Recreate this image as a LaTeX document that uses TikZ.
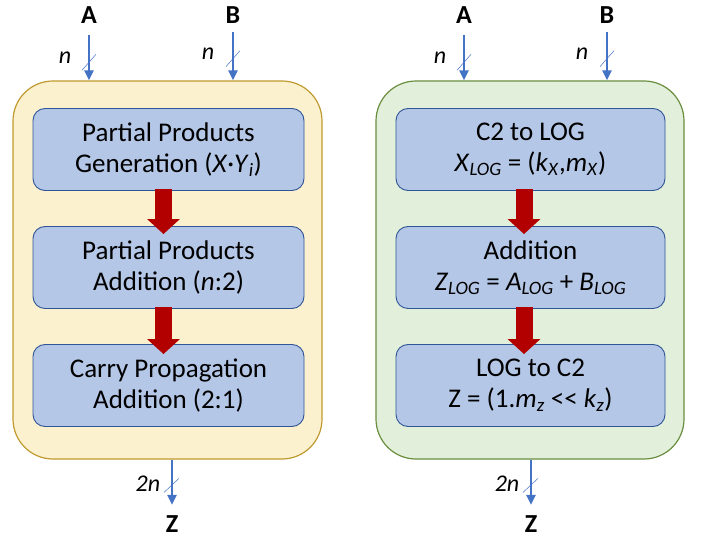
\documentclass[tikz,border=0pt]{standalone}
\usepackage{fontspec}
\setmainfont{Carlito}
\usetikzlibrary{arrows.meta}
\definecolor{stagefill}{HTML}{B4C7E7}
\definecolor{stageline}{HTML}{2F5597}
\definecolor{multfill}{HTML}{FCF1CF}
\definecolor{multline}{HTML}{BF9A2F}
\definecolor{logfill}{HTML}{E2EFDA}
\definecolor{logline}{HTML}{6A8E3F}
\definecolor{busblue}{HTML}{4472C4}
\definecolor{flowred}{HTML}{B20000}
\tikzset{
	outerbox/.style={rounded corners=40pt, line width=1.2pt, minimum width=309pt, minimum height=378pt},
	stage/.style={draw=stageline, fill=stagefill, line width=0.9pt, rounded corners=12pt, minimum width=271pt, minimum height=82pt, align=center, inner sep=0pt, font=\fontsize{27}{31}\selectfont},
	port/.style={inner sep=0pt, text height=16.7pt, text depth=0pt, font=\fontsize{26}{26}\selectfont\bfseries},
	width/.style={inner sep=0pt, font=\fontsize{24}{24}\selectfont\itshape},
	bus/.style={busblue, line width=2.6pt, -{Triangle[width=9pt 0, length=10pt 0]}},
	slash/.style={busblue, line width=0.5pt},
	flow/.style={flowred, line width=17pt, -{Triangle[width=32pt 0, length=15pt 0]}}
}
\begin{document}
\begin{tikzpicture}[x=1pt, y=1pt]
	\useasboundingbox (0,0) rectangle (702,539);
	% left: conventional multiplier
	\node (multL)[outerbox, draw=multline, fill=multfill] at (167.5,269){};
	\node (g1)[stage] at (168.5,389.5){Partial Products\\Generation (\textit{X}·\textit{Y}\textsubscript{\textit{i}})};
	\node (g2)[stage] at (168.5,271.5){Partial Products\\Addition (\textit{n}:2)};
	\node (g3)[stage] at (168.5,153.5){Carry Propagation\\Addition (2:1)};
	\draw[flow] ([shift={(-5pt,2pt)}]g1.south) -- ([shift={(-5pt,-8pt)}]g2.north);
	\draw[flow] ([shift={(-5pt,2pt)}]g2.south) -- ([shift={(-5pt,-10pt)}]g3.north);
	%
	\node (lA)[port] at (89,524){A};
	\node (lB)[port] at (233,524){B};
	\node (lZ)[port] at (172,15){Z};
	\draw[bus] ([yshift=-11.6pt]lA.south) -- coordinate[pos=.6] (slA) (lA |- multL.north);
	\draw[bus] ([yshift=-8.6pt]lB.south) -- coordinate[pos=.55] (slB) (lB |- multL.north);
	\draw[bus] (lZ |- multL.south) -- coordinate[pos=.57] (slZ) ([yshift=10.6pt]lZ.north);
	\draw[slash] ([shift={(-7pt,-8pt)}]slA) -- ([shift={(7pt,8pt)}]slA);
	\draw[slash] ([shift={(-7pt,-8pt)}]slB) -- ([shift={(7pt,8pt)}]slB);
	\draw[slash] ([shift={(-8pt,-7pt)}]slZ) -- ([shift={(7pt,7pt)}]slZ);
	\node (nlA)[width] at ([shift={(-24pt,5pt)}]slA){n};
	\node (nlB)[width] at ([shift={(-25pt,5pt)}]slB){n};
	\node (nlZ)[width] at ([shift={(-24pt,2pt)}]slZ){2n};
	%
	% right: logarithmic multiplier
	\node (multR)[outerbox, draw=logline, fill=logfill, minimum width=308pt] at (530,269){};
	\node (c1)[stage, minimum width=269pt] at (530.5,389.5){C2 to LOG\\\textit{X}\textsubscript{\textit{LOG}} = (\textit{k}\textsubscript{\textit{X}},\textit{m}\textsubscript{\textit{X}})};
	\node (c2)[stage, minimum width=269pt] at (530.5,271.5){Addition\\\textit{Z}\textsubscript{\textit{LOG}} = \textit{A}\textsubscript{\textit{LOG}} + \textit{B}\textsubscript{\textit{LOG}}};
	\node (c3)[stage, minimum width=269pt] at (530.5,153.5){LOG to C2\\Z = (1.\textit{m}\textsubscript{\textit{z}} <{}< \textit{k}\textsubscript{\textit{z}})};
	\draw[flow] ([shift={(-6.5pt,2pt)}]c1.south) -- ([shift={(-6.5pt,-8pt)}]c2.north);
	\draw[flow] ([shift={(-6.5pt,2pt)}]c2.south) -- ([shift={(-6.5pt,-10pt)}]c3.north);
	%
	\node (rA)[port] at (464,524){A};
	\node (rB)[port] at (607,524){B};
	\node (rZ)[port] at (531,15){Z};
	\draw[bus] ([yshift=-11.6pt]rA.south) -- coordinate[pos=.6] (srA) (rA |- multR.north);
	\draw[bus] ([yshift=-8.6pt]rB.south) -- coordinate[pos=.55] (srB) (rB |- multR.north);
	\draw[bus] (rZ |- multR.south) -- coordinate[pos=.57] (srZ) ([yshift=10.6pt]rZ.north);
	\draw[slash] ([shift={(-7pt,-8pt)}]srA) -- ([shift={(7pt,8pt)}]srA);
	\draw[slash] ([shift={(-7pt,-8pt)}]srB) -- ([shift={(7pt,8pt)}]srB);
	\draw[slash] ([shift={(-8pt,-7pt)}]srZ) -- ([shift={(7pt,7pt)}]srZ);
	\node (nrA)[width] at ([shift={(-24pt,5pt)}]srA){n};
	\node (nrB)[width] at ([shift={(-25pt,5pt)}]srB){n};
	\node (nrZ)[width] at ([shift={(-24pt,2pt)}]srZ){2n};
\end{tikzpicture}
\end{document}
